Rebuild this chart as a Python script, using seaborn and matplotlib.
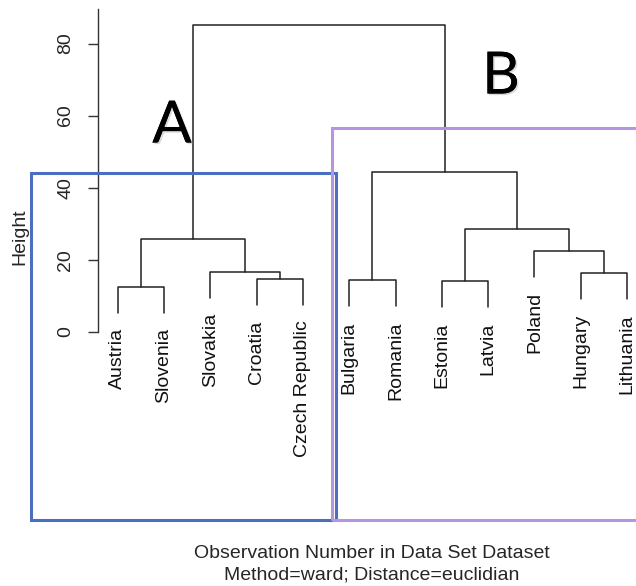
import seaborn as sns
import pandas as pd
import matplotlib.pyplot as plt
import matplotlib.patheffects as pe
from matplotlib.patches import Rectangle

# leaves in dendrogram order (left to right)
leaves = ["Austria", "Slovenia", "Slovakia", "Croatia", "Czech Republic",
          "Bulgaria", "Romania", "Estonia", "Latvia", "Poland", "Hungary", "Lithuania"]
# merges: children are leaf names or "m<k>" for an earlier merge
merge_left = ["Austria", "Croatia", "Slovakia", "m1", "Bulgaria", "Estonia",
              "Hungary", "Poland", "m6", "m5", "m4"]
merge_right = ["Slovenia", "Czech Republic", "m2", "m3", "Romania", "Latvia",
               "Lithuania", "m7", "m8", "m9", "m10"]
merge_height = [12.5, 14.6, 16.7, 25.8, 14.4, 14.1, 16.4, 22.5, 28.4, 44.3, 85.2]
hang = 7.3
yticks = [0, 20, 40, 60, 80]

# build segments
node_x = {name: i + 1 for i, name in enumerate(leaves)}
node_h = {}
leaf_bottom = {}
rows = []
for k, (l, r, h) in enumerate(zip(merge_left, merge_right, merge_height), start=1):
    ends = []
    for c in (l, r):
        if c in leaves:
            leaf_bottom[c] = h - hang
            ends.append((node_x[c], h - hang))
        else:
            ends.append((node_x[c], node_h[c]))
    pts = [ends[0], (ends[0][0], h), (ends[1][0], h), ends[1]]
    for x, y in pts:
        rows.append({"x": x, "h": y, "seg": k})
    node_x[f"m{k}"] = (ends[0][0] + ends[1][0]) / 2
    node_h[f"m{k}"] = h
df = pd.DataFrame(rows)

sns.set_theme(style="white")
plt.rcParams["font.family"] = ["Liberation Sans", "DejaVu Sans"]

W, H = 636, 586
fig = plt.figure(figsize=(W / 100, H / 100), dpi=100)
ax_left, ax_right, ax_top, ax_bottom = 97.7, 636, 9, 331.7
ax = fig.add_axes([ax_left / W, 1 - ax_bottom / H, (ax_right - ax_left) / W, (ax_bottom - ax_top) / H])

sns.lineplot(data=df, x="x", y="h", units="seg", estimator=None, sort=False,
             color="#222222", linewidth=1.1, ax=ax, legend=False)

ax.set_ylim(0, 89.6)
ax.set_xlim(1 - 20 / 46.3, 1 + (ax_right - 117.7) / 46.3)
sns.despine(ax=ax, bottom=True)
ax.spines["left"].set_color("#333333")
ax.spines["left"].set_linewidth(1.0)
ax.set_xticks([])
ax.set_yticks(yticks)
ax.set_yticklabels([str(t) for t in yticks], rotation=90, va="center", fontsize=14)
ax.tick_params(axis="y", left=True, length=7, width=1, color="#333333", pad=10)
ax.set_xlabel("")
ax.set_ylabel("")

for name in leaves:
    ax.annotate(name, (node_x[name], leaf_bottom[name]), xytext=(0, -11),
                textcoords="offset points", rotation=90, ha="center", va="top",
                fontsize=14, color="#111111", annotation_clip=False)

fig.text(20 / W, 1 - 237 / H, "Height", rotation=90, ha="center", va="center", fontsize=14)
fig.text(372 / W, 1 - 553 / H, "Observation Number in Data Set Dataset",
         ha="center", va="center", fontsize=14)
fig.text(372 / W, 1 - 575 / H, "Method=ward; Distance=euclidian",
         ha="center", va="center", fontsize=14)

# cluster boxes
fig.add_artist(Rectangle((31 / W, 1 - 520 / H), (336 - 31) / W, (520 - 173) / H,
                         transform=fig.transFigure, fill=False, edgecolor="#4A6FBE", linewidth=2.2))
fig.add_artist(Rectangle((332 / W, 1 - 520 / H), (700 - 332) / W, (520 - 128) / H,
                         transform=fig.transFigure, fill=False, edgecolor="#B794E0", linewidth=2.2))

shadow = [pe.withSimplePatchShadow(offset=(1.2, -1.2), shadow_rgbFace="#999999", alpha=0.35), pe.Normal()]
fig.text(172 / W, 1 - 126 / H, "A", ha="center", va="center", fontsize=42, color="black",
         fontweight="normal", family=["Lato", "DejaVu Sans"], path_effects=shadow)
fig.text(501 / W, 1 - 77 / H, "B", ha="center", va="center", fontsize=42, color="black",
         fontweight="normal", family=["Lato", "DejaVu Sans"], path_effects=shadow)

plt.savefig("out.png", dpi=100)
